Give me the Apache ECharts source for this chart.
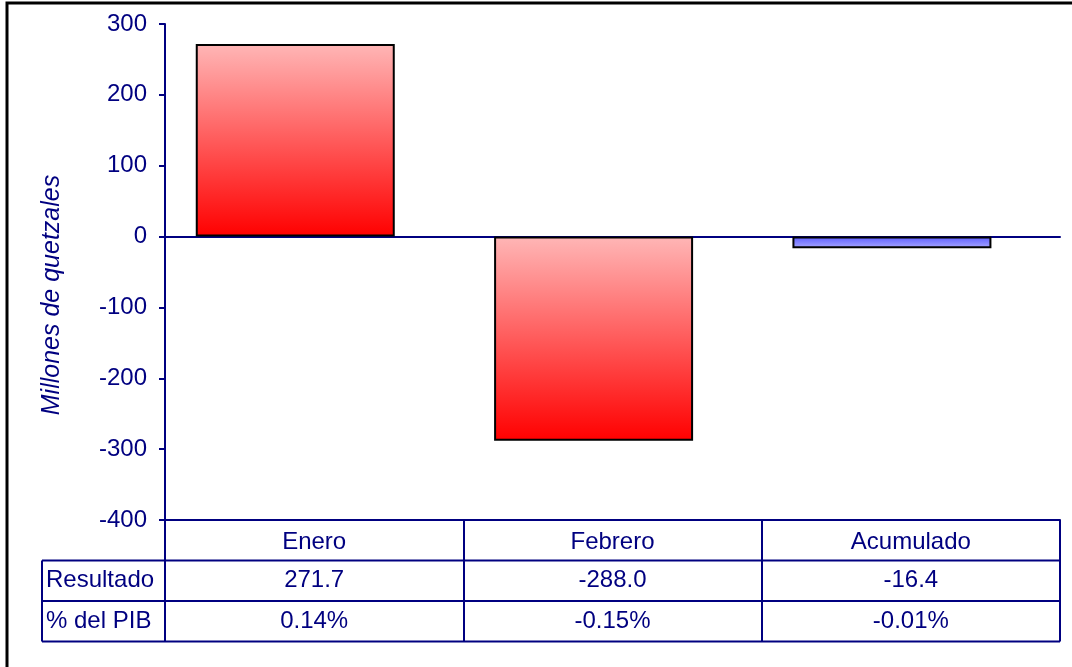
<!DOCTYPE html>
<html>
<head>
<meta charset="utf-8">
<script src="https://cdn.jsdelivr.net/npm/echarts@6/dist/echarts.min.js"></script>
<style>
html, body { margin: 0; padding: 0; background: #fff; }
#chart { width: 1072px; height: 667px; }
</style>
</head>
<body>
<div id="chart"></div>
<script>
const categories = ['Enero', 'Febrero', 'Acumulado'];
const resultado = [271.7, -288.0, -16.4];
const pctPib = ['0.14%', '-0.15%', '-0.01%'];
const rowLabels = ['Resultado', '% del PIB'];
const yTicks = { min: -400, max: 300, interval: 100 };

const navy = '#000080';
const font = 'Arial, "Liberation Sans", sans-serif';

const chart = echarts.init(document.getElementById('chart'));

const redFill = new echarts.graphic.LinearGradient(0, 0, 0, 1, [
  { offset: 0, color: '#ffb6b6' },
  { offset: 1, color: '#ff0000' }
]);
const blueFill = new echarts.graphic.LinearGradient(0, 0, 0, 1, [
  { offset: 0, color: '#5c5cff' },
  { offset: 1, color: '#a8a8ff' }
]);

// table geometry (below the plot)
const gl = 165, gr = 1060, gTop = 24, gBottom = 520;
const rowH = 40.5;
const colW = (gr - gl) / categories.length;
const tableLeft = 42;

const graphics = [];
// outer frame
graphics.push({
  type: 'rect', shape: { x: 7, y: 3, width: 1090, height: 700 },
  style: { fill: 'none', stroke: '#000', lineWidth: 3 }, silent: true
});
// horizontal lines for rows
for (let i = 1; i <= 3; i++) {
  const y = gBottom + rowH * i;
  graphics.push({
    type: 'line', shape: { x1: tableLeft, y1: y, x2: gr, y2: y },
    style: { stroke: navy, lineWidth: 2 }
  });
}
// left border of row-label column
graphics.push({
  type: 'line', shape: { x1: tableLeft, y1: gBottom + rowH, x2: tableLeft, y2: gBottom + rowH * 3 },
  style: { stroke: navy, lineWidth: 2 }
});
// row labels and values
const rows = [resultado.map(v => v.toFixed(1)), pctPib];
rows.forEach((vals, r) => {
  const cy = gBottom + rowH * (r + 1.5);
  graphics.push({
    type: 'text', x: tableLeft + 4, y: cy,
    style: { text: rowLabels[r], fill: navy, font: '24px ' + font, verticalAlign: 'middle', align: 'left' }
  });
  vals.forEach((t, c) => {
    graphics.push({
      type: 'text', x: gl + colW * (c + 0.5), y: cy,
      style: { text: t, fill: navy, font: '24px ' + font, verticalAlign: 'middle', align: 'center' }
    });
  });
});
// y axis name
graphics.push({
  type: 'text', x: 52, y: 295, rotation: Math.PI / 2,
  style: { text: 'Millones de quetzales', fill: navy, font: 'italic 25px ' + font, align: 'center', verticalAlign: 'middle' }
});

const option = {
  animation: false,
  backgroundColor: '#fff',
  grid: { left: gl, right: 1072 - gr, top: gTop, bottom: 667 - gBottom },
  xAxis: [
    {
      type: 'category',
      data: categories,
      position: 'bottom',
      axisLine: { onZero: false, lineStyle: { color: navy, width: 2 } },
      axisTick: { show: true, length: rowH * 3, lineStyle: { color: navy, width: 2 } },
      axisLabel: { color: navy, fontSize: 24, fontFamily: font, margin: 10 },
      splitLine: { show: false }
    },
    {
      type: 'category',
      data: categories,
      position: 'top',
      axisLine: { onZero: true, lineStyle: { color: navy, width: 2 } },
      axisTick: { show: false },
      axisLabel: { show: false }
    }
  ],
  yAxis: {
    type: 'value',
    min: yTicks.min, max: yTicks.max, interval: yTicks.interval,
    axisLine: { show: true, lineStyle: { color: navy, width: 2 } },
    axisTick: { show: true, length: 6, lineStyle: { color: navy, width: 2 } },
    axisLabel: { color: navy, fontSize: 24, fontFamily: font, margin: 18 },
    splitLine: { show: false }
  },
  series: [
    {
      type: 'bar',
      barWidth: 199,
      data: resultado.map((v, i) => ({
        value: v,
        itemStyle: { color: i === 2 ? blueFill : redFill }
      })),
      itemStyle: { borderColor: '#000', borderWidth: 2 }
    },
    {
      // empty slot: keeps the bars set off to the left like the original
      type: 'bar',
      barWidth: 199,
      barGap: '-81%',
      data: categories.map(() => '-'),
      silent: true
    }
  ],
  graphic: graphics
};
chart.setOption(option);
</script>
</body>
</html>
